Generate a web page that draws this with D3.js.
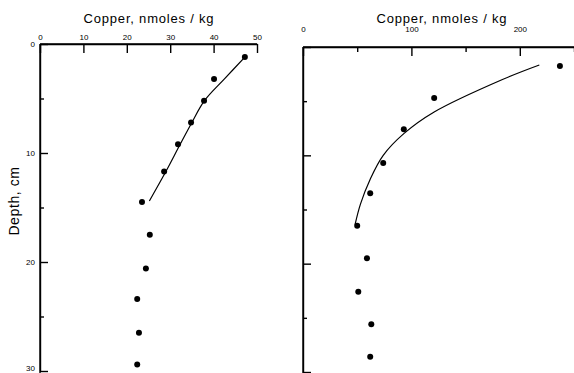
<!DOCTYPE html>
<html>
<head>
<meta charset="utf-8">
<script src="https://cdn.jsdelivr.net/npm/d3@7"></script>
<style>
  body { margin: 0; background: white; }
  svg { display: block; font-family: "Liberation Sans", Arial, sans-serif; }
  .axis path, .axis line { stroke: #000; stroke-width: 1.4; }
  .axis text { font-size: 8px; fill: #000; }
</style>
</head>
<body>
<script>
// left core: measured points and the fitted line
const leftDepth = [1.2, 3.2, 5.2, 7.2, 9.2, 11.7, 14.5, 17.5, 20.6, 23.4, 26.5, 29.4];
const leftCopper = [47.2, 40.1, 37.8, 34.8, 31.8, 28.6, 23.5, 25.3, 24.4, 22.4, 22.8, 22.4];
const leftFitDepth = [1.2, 3.2, 5.2, 7.2, 9.2, 11.7, 14.4];
const leftFitCopper = [47.2, 42.5, 37.9, 35.0, 32.3, 29.0, 25.2];

// right core
const rightDepth = [1.75, 4.7, 7.6, 10.7, 13.5, 16.5, 19.5, 22.6, 25.6, 28.6];
const rightCopper = [237, 121, 93, 74, 62, 50, 59, 51, 63, 62];
const rightFitDepth = [1.66, 3.0, 6.0, 8.0, 10.0, 12.2, 14.5, 16.4];
const rightFitCopper = [218, 184, 121, 93, 74, 62, 53, 48];

const leftXTicks = [0, 10, 20, 30, 40, 50];
const rightXMajor = [0, 100, 200];
const rightXMinor = [50, 150, 250];
const depthMajor = [0, 10, 20, 30];
const depthMinor = [5, 15, 25];

const width = 574, height = 373;

const svg = d3.select("body").append("svg")
    .attr("width", width)
    .attr("height", height);

function panel(opts) {
  const {x, y, depth, copper, fitDepth, fitCopper, xMajor, xMinor, yLabels, title} = opts;
  const g = svg.append("g");

  // minor ticks first, no labels
  g.append("g").attr("class", "axis")
      .attr("transform", `translate(0,${y(0)})`)
      .call(d3.axisTop(x).tickValues(xMinor).tickSize(-5).tickSizeOuter(0).tickFormat(""));
  g.append("g").attr("class", "axis")
      .attr("transform", `translate(${x(0)},0)`)
      .call(d3.axisLeft(y).tickValues(depthMinor).tickSize(-4).tickSizeOuter(0).tickFormat(""));

  g.append("g").attr("class", "axis")
      .attr("transform", `translate(0,${y(0)})`)
      .call(d3.axisTop(x).tickValues(xMajor).tickSize(-9).tickSizeOuter(0).tickPadding(opts.xPad))
      .call(a => a.select(".domain").attr("d", `M${x.range()[0]},0H${x.range()[1]}`));

  g.append("g").attr("class", "axis")
      .attr("transform", `translate(${x(0)},0)`)
      .call(d3.axisLeft(y).tickValues(depthMajor).tickSize(-8).tickSizeOuter(0).tickPadding(5)
        .tickFormat(yLabels ? d3.format("d") : ""))
      .call(a => a.select(".domain").attr("d", `M0,${y.range()[0]}V${height}`))
      .call(a => a.selectAll(".tick text").filter(d => d === 30).attr("dy", "-0.05em"));

  const line = d3.line()
      .x((d, i) => x(fitCopper[i]))
      .y(d => y(d))
      .curve(d3.curveCatmullRom);

  g.append("path")
      .attr("d", line(fitDepth))
      .attr("fill", "none")
      .attr("stroke", "#000")
      .attr("stroke-width", 1.2);

  g.append("g").selectAll("circle")
    .data(depth)
    .join("circle")
      .attr("cx", (d, i) => x(copper[i]))
      .attr("cy", d => y(d))
      .attr("r", 3)
      .attr("fill", "#000");

  svg.append("text")
      .attr("x", title.x)
      .attr("y", title.y)
      .attr("text-anchor", "middle")
      .attr("font-size", 13)
      .attr("letter-spacing", 0.8)
      .text("Copper, nmoles / kg");
}

panel({
  x: d3.scaleLinear([0, 50], [40, 257]),
  y: d3.scaleLinear([0, 30], [44, 371]),
  depth: leftDepth, copper: leftCopper,
  fitDepth: leftFitDepth, fitCopper: leftFitCopper,
  xMajor: leftXTicks, xMinor: [], yLabels: true, xPad: 4,
  title: {x: 149, y: 23}
});

panel({
  x: d3.scaleLinear([0, 250], [303, 574]),
  y: d3.scaleLinear([0, 30], [47, 372]),
  depth: rightDepth, copper: rightCopper,
  fitDepth: rightFitDepth, fitCopper: rightFitCopper,
  xMajor: rightXMajor, xMinor: rightXMinor, yLabels: false, xPad: 15,
  title: {x: 442, y: 23}
});

svg.append("text")
    .attr("transform", "translate(19,201) rotate(-90)")
    .attr("text-anchor", "middle")
    .attr("font-size", 14)
    .attr("letter-spacing", 0.6)
    .text("Depth, cm");
</script>
</body>
</html>
